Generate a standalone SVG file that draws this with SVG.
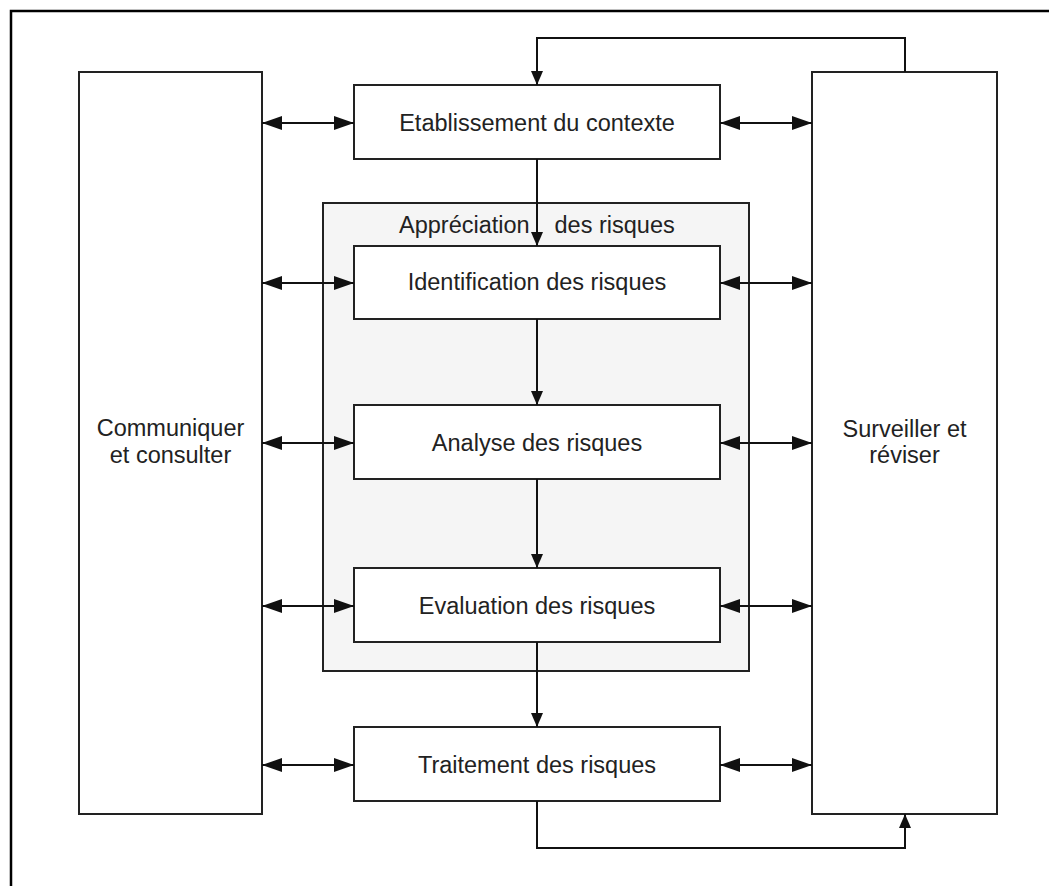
<svg xmlns="http://www.w3.org/2000/svg" width="1049" height="886" viewBox="0 0 1049 886">
<style>
.box{fill:#fff;stroke:#222;stroke-width:2}
.grp{fill:#f5f5f5;stroke:#222;stroke-width:2}
.lbl{font-family:"Liberation Sans",Arial,sans-serif;font-size:23.5px;fill:#222;text-anchor:middle}
.c{fill:none;stroke:#111;stroke-width:2}
.h{marker-start:url(#ah);marker-end:url(#ah)}
.v{marker-end:url(#av)}
</style>
<defs>
<marker id="ah" viewBox="0 0 20 14" refX="20" refY="7" markerWidth="20" markerHeight="14" markerUnits="userSpaceOnUse" orient="auto-start-reverse"><path d="M0,0 L20,7 L0,14 z" fill="#111"/></marker>
<marker id="av" viewBox="0 0 14 12" refX="14" refY="6" markerWidth="14" markerHeight="12" markerUnits="userSpaceOnUse" orient="auto"><path d="M0,0 L14,6 L0,12 z" fill="#111"/></marker>
</defs>
<rect width="1049" height="886" fill="#fff"/>
<path d="M11,886 V11 H1049" fill="none" stroke="#000" stroke-width="2.5"/>
<g id="appreciation">
<rect class="grp" x="323" y="203" width="426" height="468"/>
<text class="lbl" style="text-anchor:start"><tspan x="399" y="233">Appréciation</tspan><tspan x="548" y="233"> des risques</tspan></text>
</g>
<g id="communiquer">
<rect class="box" x="79" y="72" width="183" height="742"/>
<text class="lbl"><tspan x="170.5" y="436">Communiquer</tspan><tspan x="170.5" y="463">et consulter</tspan></text>
</g>
<g id="surveiller">
<rect class="box" x="812" y="72" width="185" height="742"/>
<text class="lbl"><tspan x="904.5" y="437">Surveiller et</tspan><tspan x="904.5" y="463">réviser</tspan></text>
</g>
<g id="contexte">
<rect class="box" x="354" y="85" width="366" height="74"/>
<text class="lbl" x="537" y="131">Etablissement du contexte</text>
</g>
<g id="identification">
<rect class="box" x="354" y="246" width="366" height="73"/>
<text class="lbl" x="537" y="290">Identification des risques</text>
</g>
<g id="analyse">
<rect class="box" x="354" y="405" width="366" height="74"/>
<text class="lbl" x="537" y="451">Analyse des risques</text>
</g>
<g id="evaluation">
<rect class="box" x="354" y="568" width="366" height="74"/>
<text class="lbl" x="537" y="614">Evaluation des risques</text>
</g>
<g id="traitement">
<rect class="box" x="354" y="727" width="366" height="74"/>
<text class="lbl" x="537" y="773">Traitement des risques</text>
</g>
<g id="connectors">
<line class="c h" x1="262" y1="123" x2="354" y2="123"/>
<line class="c h" x1="720" y1="123" x2="812" y2="123"/>
<line class="c h" x1="262" y1="283" x2="354" y2="283"/>
<line class="c h" x1="720" y1="283" x2="812" y2="283"/>
<line class="c h" x1="262" y1="443" x2="354" y2="443"/>
<line class="c h" x1="720" y1="443" x2="812" y2="443"/>
<line class="c h" x1="262" y1="606" x2="354" y2="606"/>
<line class="c h" x1="720" y1="606" x2="812" y2="606"/>
<line class="c h" x1="262" y1="765" x2="354" y2="765"/>
<line class="c h" x1="720" y1="765" x2="812" y2="765"/>
<line class="c v" x1="537" y1="159" x2="537" y2="246"/>
<line class="c v" x1="537" y1="319" x2="537" y2="405"/>
<line class="c v" x1="537" y1="479" x2="537" y2="568"/>
<line class="c v" x1="537" y1="642" x2="537" y2="727"/>
<path class="c v" d="M905,72 V38 H537 V85"/>
<path class="c v" d="M537,801 V848 H905 V814"/>
</g>
</svg>
